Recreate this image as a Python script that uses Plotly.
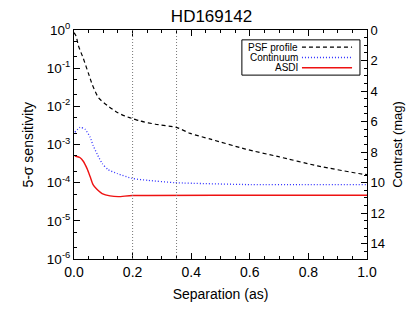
import plotly.graph_objects as go

# ---- data ----
psf_sep = [0.0, 0.007, 0.015, 0.032, 0.049, 0.063, 0.084, 0.114, 0.148, 0.176, 0.203, 0.227, 0.278, 0.35, 0.397, 0.466, 0.585, 0.698, 0.831, 0.971, 1.0]
psf_val = [0.85, 0.70, 0.39, 0.178, 0.074, 0.036, 0.0166, 0.0105, 0.0069, 0.0055, 0.0047, 0.0041, 0.0034, 0.0028, 0.00195, 0.00138, 7.6e-4, 4.8e-4, 2.75e-4, 1.74e-4, 1.62e-4]

cont_sep = [0.003, 0.021, 0.038, 0.055, 0.065, 0.079, 0.096, 0.116, 0.147, 0.199, 0.253, 0.346, 0.603, 0.774, 1.0]
cont_val = [2.1e-3, 2.8e-3, 2.5e-3, 1.55e-3, 9.5e-4, 5.6e-4, 3.2e-4, 2.2e-4, 1.74e-4, 1.29e-4, 1.15e-4, 1.0e-4, 8.9e-5, 8.9e-5, 8.9e-5]

asdi_sep = [0.003, 0.021, 0.031, 0.045, 0.055, 0.065, 0.079, 0.096, 0.123, 0.151, 0.199, 0.603, 1.0]
asdi_val = [5.0e-4, 4.5e-4, 3.7e-4, 2.3e-4, 1.45e-4, 8.9e-5, 6.6e-5, 5.2e-5, 4.5e-5, 4.3e-5, 4.6e-5, 4.7e-5, 4.7e-5]

ref_lines = [0.2, 0.35]
y_exps = [0, -1, -2, -3, -4, -5, -6]
mag_ticks = [0, 2, 4, 6, 8, 10, 12, 14]
legend_names = ["PSF profile", "Continuum", "ASDI"]

FONT = "Liberation Sans, Arial, Helvetica, sans-serif"

psf_style = dict(color="black", dash="4px,3px", width=1.2)
cont_style = dict(color="#3030ff", dash="1px,2px", width=1.3)
asdi_style = dict(color="#ee1111", width=1.4)

fig = go.Figure()
fig.add_trace(go.Scatter(x=psf_sep, y=psf_val, mode="lines", line=dict(**psf_style, shape="spline", smoothing=0.6), showlegend=False))
fig.add_trace(go.Scatter(x=cont_sep, y=cont_val, mode="lines", line=dict(**cont_style, shape="spline", smoothing=0.6), showlegend=False))
fig.add_trace(go.Scatter(x=asdi_sep, y=asdi_val, mode="lines", line=dict(**asdi_style, shape="spline", smoothing=0.6), showlegend=False))
# invisible trace so the right-hand axis is drawn
fig.add_trace(go.Scatter(x=[0, 1], y=[0, 15], yaxis="y2", mode="lines", line=dict(width=0), opacity=0, showlegend=False, hoverinfo="skip"))

for xv in ref_lines:
    fig.add_shape(type="line", xref="x", yref="paper", x0=xv, x1=xv, y0=0, y1=1,
                  line=dict(color="#777777", width=1, dash="1px,2px"))

# custom legend (text right-aligned, line sample on the right)
fig.add_shape(type="rect", xref="paper", yref="paper", x0=0.573, x1=0.976, y0=0.803, y1=0.957,
              line=dict(color="black", width=1), fillcolor="white")
rows = [0.925, 0.880, 0.835]
for name, st, yy in zip(legend_names, [psf_style, cont_style, asdi_style], rows):
    fig.add_annotation(xref="paper", yref="paper", x=0.768, y=yy, text=name, showarrow=False,
                       xanchor="right", yanchor="middle", borderpad=0,
                       font=dict(size=10, color="black", family=FONT))
    fig.add_shape(type="line", xref="paper", yref="paper", x0=0.778, x1=0.949, y0=yy, y1=yy, line=st)

# left axis title placed explicitly
fig.add_annotation(xref="paper", yref="paper", x=-0.16, y=0.5, text="5-σ sensitivity", textangle=-90,
                   showarrow=False, xanchor="center", yanchor="middle", font=dict(size=14, family=FONT, color="black"))

fig.update_layout(
    width=407, height=304,
    margin=dict(l=66, r=48, t=18, b=53),
    paper_bgcolor="white", plot_bgcolor="white",
    font=dict(family=FONT, size=14, color="black"),
    title=dict(text="HD169142", x=0.5, xanchor="center", y=0.972, yanchor="middle", font=dict(size=17)),
    xaxis=dict(range=[0, 1], tickvals=[0, 0.2, 0.4, 0.6, 0.8, 1.0], ticktext=["0.0", "0.2", "0.4", "0.6", "0.8", "1.0"],
               ticks="inside", ticklen=6, tickcolor="black", showline=True, linecolor="black", linewidth=1,
               mirror="ticks", showgrid=False, zeroline=False,
               minor=dict(ticks="inside", ticklen=3, dtick=0.05, tickcolor="black", showgrid=False),
               title=dict(text="Separation (as)", standoff=10, font=dict(size=14))),
    yaxis=dict(type="log", range=[-6, 0], tickvals=[10 ** e for e in y_exps],
               ticktext=["10<sup>%d</sup>" % e for e in y_exps],
               ticks="inside", ticklen=6, tickcolor="black", showline=True, linecolor="black", linewidth=1,
               showgrid=False, zeroline=False, tickfont=dict(size=13.5),
               minor=dict(ticks="inside", ticklen=3, tickcolor="black", showgrid=False)),
    yaxis2=dict(overlaying="y", side="right", range=[15, 0], tickvals=mag_ticks,
                ticks="inside", ticklen=6, tickcolor="black", showline=True, linecolor="black", linewidth=1,
                showgrid=False, zeroline=False,
                minor=dict(ticks="inside", ticklen=3, dtick=0.5, tickcolor="black", showgrid=False),
                title=dict(text="Contrast (mag)", standoff=8, font=dict(size=13)),
                tickfont=dict(size=13)),
)

fig.write_html("out.html")
